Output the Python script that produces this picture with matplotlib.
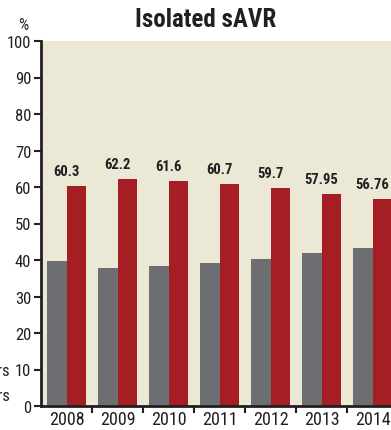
import matplotlib.pyplot as plt
import numpy as np

years = ["2008", "2009", "2010", "2011", "2012", "2013", "2014"]
red_vals = [60.3, 62.2, 61.6, 60.7, 59.7, 57.95, 56.76]
red_labels = ["60.3", "62.2", "61.6", "60.7", "59.7", "57.95", "56.76"]
gray_vals = [39.7, 37.8, 38.4, 39.3, 40.3, 42.05, 43.24]
legend_labels = ["< 80 years", "\u2265 80 years"]

BG = "#ECE8D6"
GRAY = "#6D6E72"
RED = "#A51E24"
INK = "#231F20"

plt.rcParams["font.family"] = ["Roboto Condensed", "DejaVu Sans"]

W, H = 391, 431
fig = plt.figure(figsize=(W / 100, H / 100), dpi=100)
# axes runs past the right edge of the figure on purpose
ax = fig.add_axes([41 / W, 24 / H, 357 / W, 365 / H])
ax.set_facecolor(BG)

x = np.arange(len(years))
w = 0.375
ax.bar(x - w / 2, gray_vals, w, color=GRAY)
ax.bar(x + w / 2, red_vals, w, color=RED)

for xi, v, lab in zip(x, red_vals, red_labels):
    ax.text(xi, v + 2.2, lab, ha="center", va="bottom", fontsize=10.5,
            fontweight="bold", color=INK)

ax.set_xlim(-0.5, len(years) - 0.5)
ax.set_ylim(0, 100)
ax.set_yticks(range(0, 101, 10))
ax.tick_params(axis="y", labelsize=12, colors=INK, length=5, width=1.5, pad=2)

ax.set_xticks(x)
ax.set_xticklabels(years)
ax.set_xticks(np.arange(0.5, len(years) - 0.5, 1), minor=True)
ax.tick_params(axis="x", which="major", length=0, labelsize=13, colors=INK, pad=3)
ax.tick_params(axis="x", which="minor", length=5, width=1.5, color=INK)

for s in ["top", "right"]:
    ax.spines[s].set_visible(False)
for s in ["left", "bottom"]:
    ax.spines[s].set_linewidth(2)
    ax.spines[s].set_color(INK)

fig.text(23 / W, 1 - 26 / H, "%", ha="center", va="center", fontsize=11.5, color=INK)
fig.text(206 / W, 1 - 20 / H, "Isolated sAVR", ha="center", va="center",
         fontsize=18, fontweight="bold", color=INK)

# legend text sits left of the axis
for yy, lab in zip([372, 397], legend_labels):
    fig.text(10 / W, 1 - yy / H, lab, ha="right", va="center", fontsize=12, color=INK)

fig.savefig("out.png", dpi=100)
